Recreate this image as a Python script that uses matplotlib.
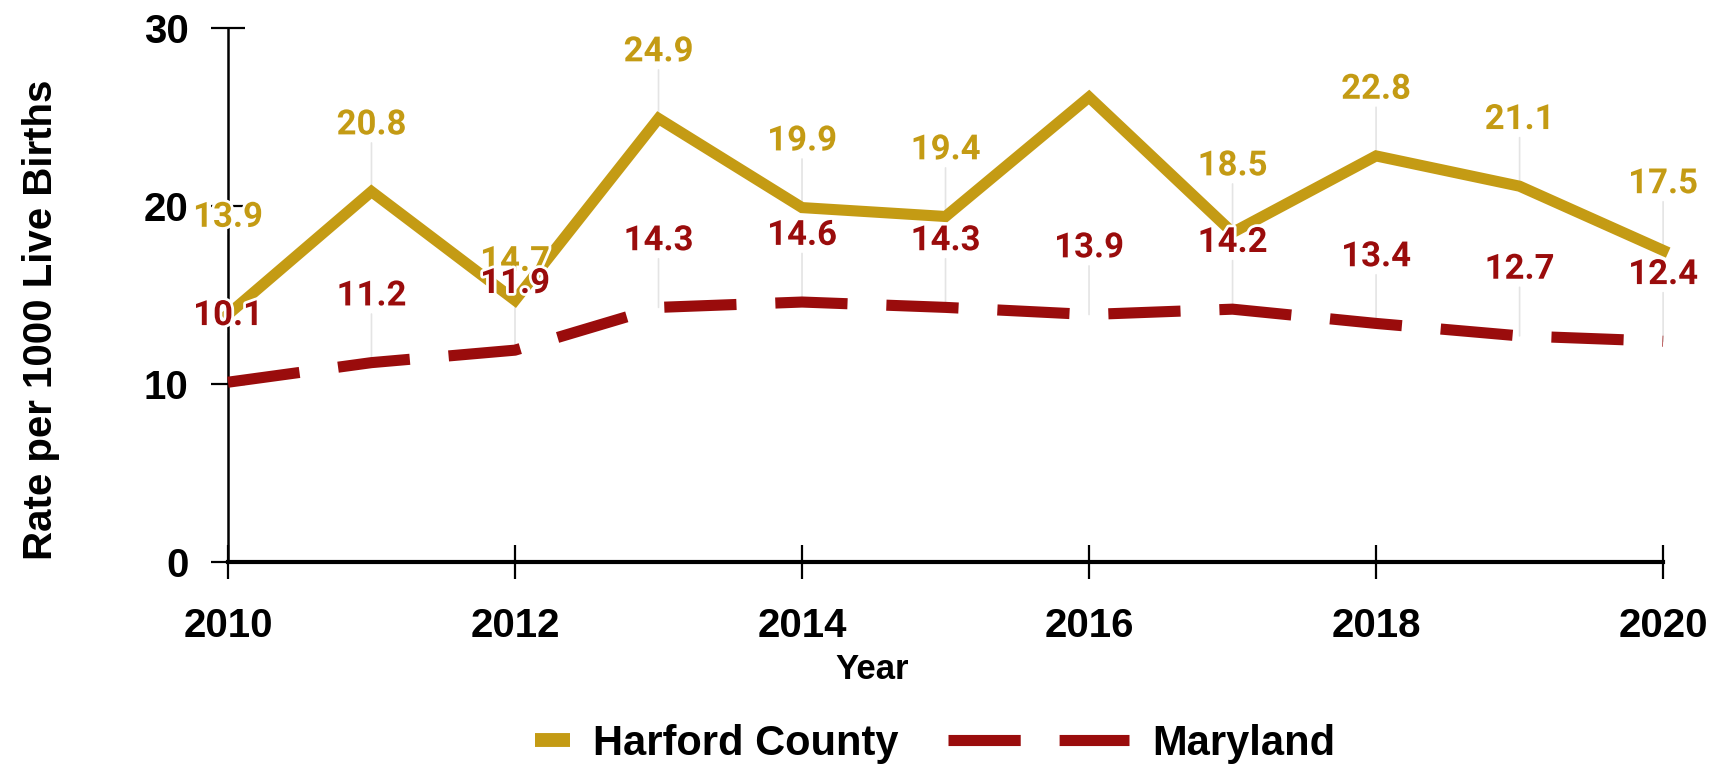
import matplotlib
matplotlib.use("Agg")
import matplotlib.pyplot as plt
import matplotlib.patheffects as pe
from matplotlib.lines import Line2D

years = [2010, 2011, 2012, 2013, 2014, 2015, 2016, 2017, 2018, 2019, 2020]
harford = [13.9, 20.8, 14.7, 24.9, 19.9, 19.4, 26.1, 18.5, 22.8, 21.1, 17.5]
maryland = [10.1, 11.2, 11.9, 14.3, 14.6, 14.3, 13.9, 14.2, 13.4, 12.7, 12.4]
# 2016 Harford value has no label in the original
harford_labels = ["13.9", "20.8", "14.7", "24.9", "19.9", "19.4", "", "18.5", "22.8", "21.1", "17.5"]
maryland_labels = ["10.1", "11.2", "11.9", "14.3", "14.6", "14.3", "13.9", "14.2", "13.4", "12.7", "12.4"]

GOLD = "#C49B14"
RED = "#9A0C0C"
LEADER = "#e4e4e4"
AXFONT = "Liberation Sans"

# label offsets in points (a couple were nudged in the original to avoid overlaps)
harford_off = [70, 48, 28, 48, 48, 48, 48, 48, 48, 48, 48]
maryland_off = [48] * len(years)

fig = plt.figure(figsize=(17.27, 7.67), dpi=100)
ax = fig.add_axes([0.132, 0.267, 0.831, 0.697])

ax.plot(years, harford, color=GOLD, lw=8, solid_joinstyle="miter", clip_on=False, zorder=3)
ax.plot(years, maryland, color=RED, lw=8, linestyle=(0, (6.5, 3.5)),
        dash_capstyle="butt", clip_on=False, zorder=3)

def add_labels(vals, labels, offs, color):
    for x, v, lab, off in zip(years, vals, labels, offs):
        if not lab:
            continue
        ax.annotate("", xy=(x, v), xytext=(0, off - 13), textcoords="offset points",
                    arrowprops=dict(arrowstyle="-", color=LEADER, lw=1.2, shrinkA=0, shrinkB=0),
                    zorder=1, annotation_clip=False)
        ax.annotate(lab, xy=(x, v), xytext=(0, off), textcoords="offset points",
                    ha="center", va="center", fontsize=25, color=color,
                    family="Roboto", fontweight="bold", zorder=5,
                    annotation_clip=False,
                    path_effects=[pe.withStroke(linewidth=4, foreground="white")])

add_labels(harford, harford_labels, harford_off, GOLD)
add_labels(maryland, maryland_labels, maryland_off, RED)

ax.set_xlim(2010, 2020)
ax.set_ylim(0, 30)
ax.set_xticks([2010, 2012, 2014, 2016, 2018, 2020])
ax.set_yticks([0, 10, 20, 30])

for s in ["top", "right"]:
    ax.spines[s].set_visible(False)
ax.spines["left"].set_linewidth(1.8)
ax.spines["bottom"].set_linewidth(3)
ax.tick_params(axis="both", direction="inout", length=25, width=1.6, color="black")
ax.tick_params(axis="x", pad=20)
ax.tick_params(axis="y", pad=16)
for t in ax.get_xticklabels() + ax.get_yticklabels():
    t.set_fontsize(29)
    t.set_fontweight("bold")
    t.set_family(AXFONT)

ax.set_xlabel("Year", fontsize=25, fontweight="bold", family=AXFONT)
ax.xaxis.set_label_coords(0.449, -0.17)
fig.text(0.024, 0.583, "Rate per 1000 Live Births", rotation=90, ha="center", va="center",
         fontsize=29, fontweight="bold", family=AXFONT)

legprop = dict(family=AXFONT, weight="bold", size=30)
leg1 = fig.legend(handles=[Line2D([], [], color=GOLD, lw=10, solid_capstyle="butt")],
                  labels=["Harford County"], loc="center", bbox_to_anchor=(0.415, 0.03),
                  frameon=False, handlelength=0.85, handletextpad=0.55, borderpad=0, prop=legprop)
leg2 = fig.legend(handles=[Line2D([], [], color=RED, lw=8, linestyle=(0, (6.5, 3.5)),
                                  dash_capstyle="butt")],
                  labels=["Maryland"], loc="center", bbox_to_anchor=(0.661, 0.03),
                  frameon=False, handlelength=4.35, handletextpad=0.55, borderpad=0, prop=legprop)

fig.savefig("out.png", dpi=100)
